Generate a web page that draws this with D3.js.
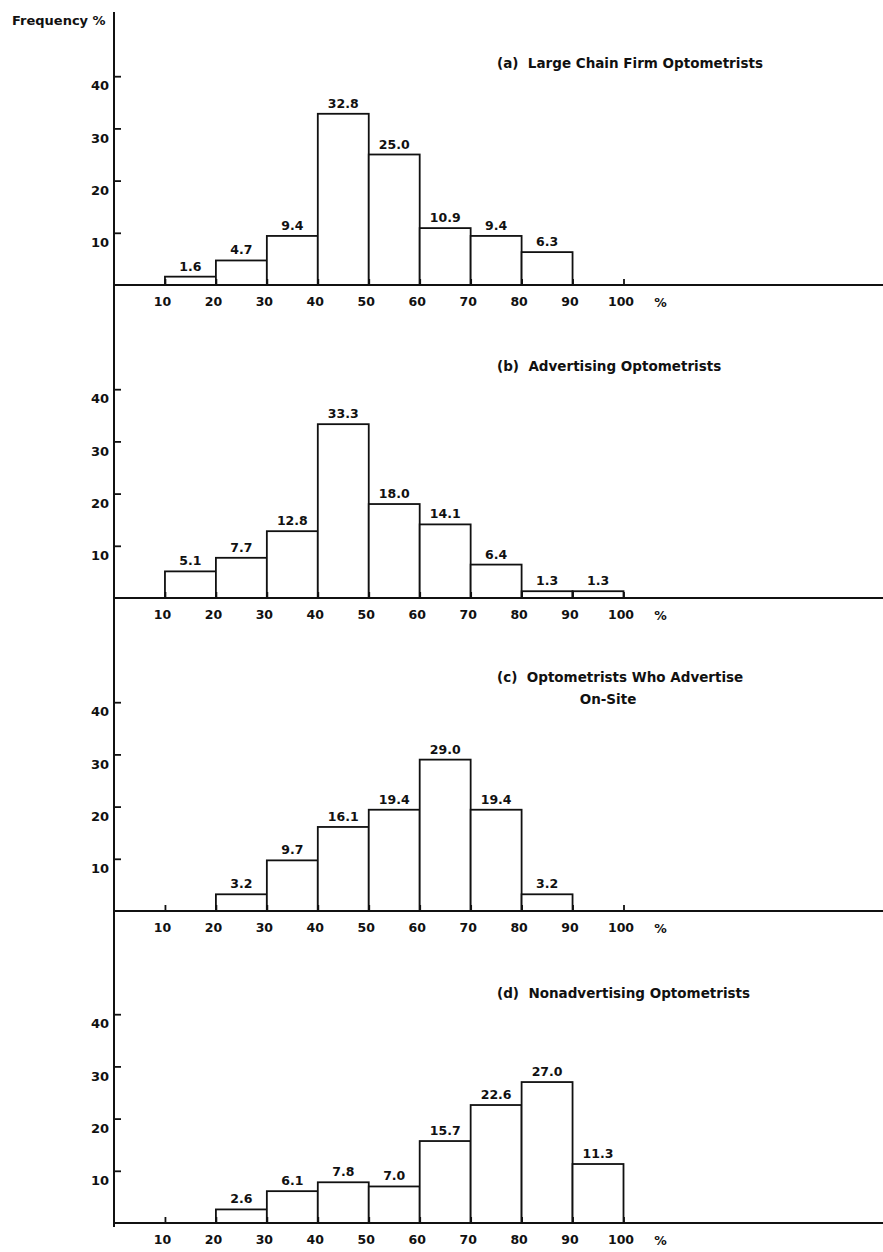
<!DOCTYPE html>
<html>
<head>
<meta charset="utf-8">
<script src="https://cdn.jsdelivr.net/npm/d3@7"></script>
<style>
  html, body { margin: 0; padding: 0; background: #fff; }
  svg { display: block; }
  text { font-family: "DejaVu Sans", sans-serif; font-weight: bold; fill: #111; }
  text.title { white-space: pre; }
</style>
</head>
<body>
<svg id="chart" width="883" height="1252"></svg>
<script>
// ---- data ----
const binStarts = [10, 20, 30, 40, 50, 60, 70, 80, 90];
const panelTitles = [
  ["(a)  Large Chain Firm Optometrists"],
  ["(b)  Advertising Optometrists"],
  ["(c)  Optometrists Who Advertise", "On-Site"],
  ["(d)  Nonadvertising Optometrists"]
];
const seriesA = [1.6, 4.7, 9.4, 32.8, 25.0, 10.9, 9.4, 6.3, null];
const seriesB = [5.1, 7.7, 12.8, 33.3, 18.0, 14.1, 6.4, 1.3, 1.3];
const seriesC = [null, 3.2, 9.7, 16.1, 19.4, 29.0, 19.4, 3.2, null];
const seriesD = [null, 2.6, 6.1, 7.8, 7.0, 15.7, 22.6, 27.0, 11.3];
const xTicks = [10, 20, 30, 40, 50, 60, 70, 80, 90, 100];
const yTicks = [10, 20, 30, 40];
const yAxisLabel = "Frequency %";
const xUnitLabel = "%";

// ---- layout ----
const W = 883, H = 1252;
const axisX = 114;
const baselines = [285, 598, 911, 1223];
const titleY = [63, 366, 677, 993];
const titleX = 497;
const unitPx = 5.22; // px per 1% on the y axis

const svg = d3.select("#chart");
const x = d3.scaleLinear().domain([0, 100]).range([axisX, 623.5]);

// continuous y axis line
svg.append("line")
  .attr("x1", axisX).attr("x2", axisX)
  .attr("y1", 12).attr("y2", baselines[3] + 4)
  .attr("stroke", "#111").attr("stroke-width", 2);

svg.append("text")
  .attr("x", 12).attr("y", 25)
  .attr("font-size", 13)
  .text(yAxisLabel);

const allSeries = [seriesA, seriesB, seriesC, seriesD];

allSeries.forEach((series, i) => {
  const base = baselines[i];
  const y = d3.scaleLinear().domain([0, 40]).range([base, base - 40 * unitPx]);
  const g = svg.append("g");

  // bars
  const bins = binStarts.map((s, k) => ({ start: s, value: series[k] })).filter(d => d.value != null);
  g.selectAll("rect.bar").data(bins).join("rect")
    .attr("class", "bar")
    .attr("x", d => x(d.start))
    .attr("y", d => y(d.value))
    .attr("width", d => x(d.start + 10) - x(d.start))
    .attr("height", d => y(0) - y(d.value))
    .attr("fill", "#fff")
    .attr("stroke", "#111")
    .attr("stroke-width", 1.8);

  // value labels
  g.selectAll("text.val").data(bins).join("text")
    .attr("class", "val")
    .attr("x", d => (x(d.start) + x(d.start + 10)) / 2)
    .attr("y", d => y(d.value) - 6)
    .attr("text-anchor", "middle")
    .attr("font-size", 12.5)
    .text(d => d3.format(".1f")(d.value));

  // y axis (ticks pointing right, labels below tick)
  const yAxis = d3.axisLeft(y).tickValues(yTicks).tickFormat(d3.format("d"))
    .tickSizeInner(-7).tickSizeOuter(0).tickPadding(5);
  const ya = g.append("g").attr("transform", `translate(${axisX},0)`).call(yAxis);
  ya.select(".domain").remove();
  ya.selectAll(".tick line").attr("stroke", "#111").attr("stroke-width", 1.8);
  ya.selectAll(".tick text")
    .attr("font-family", "DejaVu Sans, sans-serif").attr("font-weight", "bold")
    .attr("font-size", 13).attr("fill", "#111").attr("dy", "1.05em");

  // x axis
  const xAxis = d3.axisBottom(x).tickValues(xTicks).tickFormat(d3.format("d"))
    .tickSizeInner(-6).tickSizeOuter(0).tickPadding(12);
  const xa = g.append("g").attr("transform", `translate(0,${base})`).call(xAxis);
  xa.select(".domain").remove();
  xa.selectAll(".tick line").attr("stroke", "#111").attr("stroke-width", 1.8);
  xa.selectAll(".tick text")
    .attr("font-family", "DejaVu Sans, sans-serif").attr("font-weight", "bold")
    .attr("font-size", 12.5).attr("fill", "#111").attr("dx", "-3");

  // baseline extending to right edge
  g.append("line")
    .attr("x1", axisX).attr("x2", W)
    .attr("y1", base).attr("y2", base)
    .attr("stroke", "#111").attr("stroke-width", 2);

  // unit label
  g.append("text")
    .attr("x", x(100) + 37).attr("y", base + 22)
    .attr("text-anchor", "middle").attr("font-size", 12.5)
    .text(xUnitLabel);

  // title
  const lines = panelTitles[i];
  g.append("text")
    .attr("class", "title")
    .attr("x", titleX).attr("y", titleY[i] + 5)
    .attr("font-size", 13.5)
    .text(lines[0]);
  if (lines.length > 1) {
    g.append("text")
      .attr("class", "title")
      .attr("x", 608).attr("y", titleY[i] + 27)
      .attr("text-anchor", "middle")
      .attr("font-size", 13.5)
      .text(lines[1]);
  }
});
</script>
</body>
</html>
